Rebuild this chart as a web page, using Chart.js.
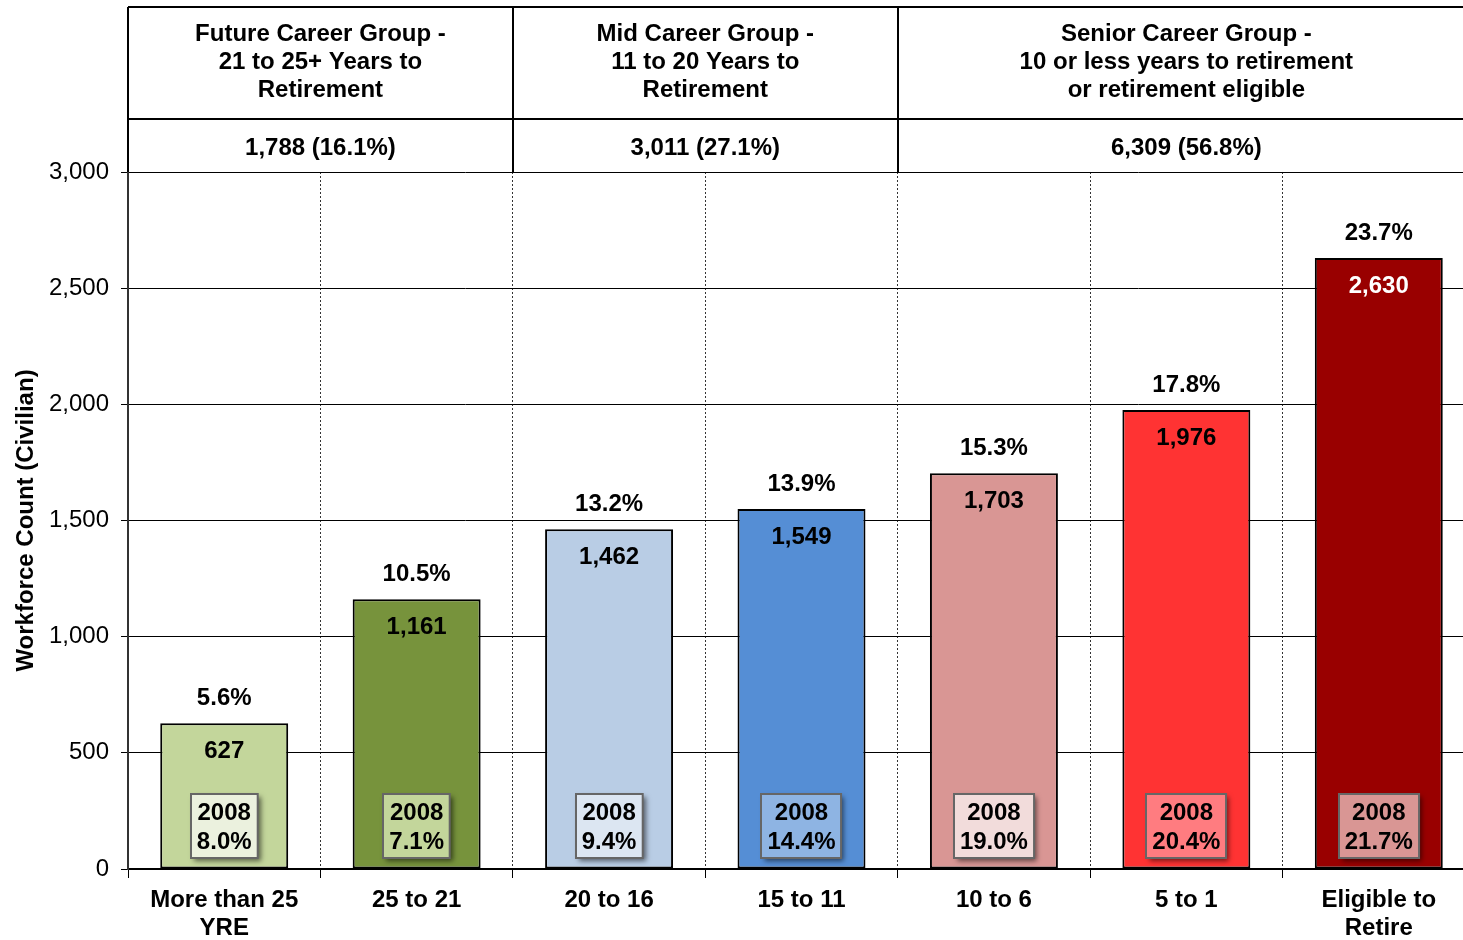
<!DOCTYPE html>
<html>
<head>
<meta charset="utf-8">
<title>Workforce Count (Civilian)</title>
<script src="https://cdn.jsdelivr.net/npm/chart.js@4/dist/chart.umd.min.js"></script>
<style>
    html, body { margin: 0; padding: 0; background: #fff; overflow: hidden; }
    #wrap { width: 1475px; height: 940px; }
</style>
</head>
<body>
<div id="wrap"><canvas id="workforceChart"></canvas></div>
<script>
// --- data ---
const categories = [['More than 25', 'YRE'], '25 to 21', '20 to 16', '15 to 11', '10 to 6', '5 to 1', ['Eligible to', 'Retire']];
const counts     = [627, 1161, 1462, 1549, 1703, 1976, 2630];
const pctNow     = [5.6, 10.5, 13.2, 13.9, 15.3, 17.8, 23.7];
const pct2008    = [8.0, 7.1, 9.4, 14.4, 19.0, 20.4, 21.7];
const yTicks     = [0, 500, 1000, 1500, 2000, 2500, 3000];

const groupTitles = [
    ['Future Career Group -', '21 to 25+ Years to', 'Retirement'],
    ['Mid Career Group -', '11 to 20 Years to', 'Retirement'],
    ['Senior Career Group -', '10 or less years to retirement', 'or retirement eligible'],
];
const groupCounts = [1788, 3011, 6309];
const groupPcts   = [16.1, 27.1, 56.8];
const groupSpans  = [2, 2, 3];

// --- styles ---
const barColors   = ['#c3d69b', '#77933c', '#b9cde5', '#558ed5', '#d99694', '#ff3333', '#990000'];
const boxColors   = ['#ebf1de', '#c3d69b', '#dce6f2', '#8eb4e3', '#f2dcdb', '#ff7c80', '#d99694'];
const valueColors = ['#000', '#000', '#000', '#000', '#000', '#000', '#fff'];
const FONT = "'Liberation Sans', Arial, sans-serif";

const fmt = n => n.toLocaleString('en-US');

// labels above / inside bars + 2008 boxes
const barLabels = {
    id: 'barLabels',
    afterDatasetsDraw(chart) {
        const ctx = chart.ctx;
        const meta = chart.getDatasetMeta(0);
        const yScale = chart.scales.y;
        ctx.save();
        ctx.textAlign = 'center';
        ctx.textBaseline = 'middle';
        meta.data.forEach((bar, i) => {
            ctx.font = `bold 24px ${FONT}`;
            ctx.fillStyle = '#000';
            ctx.fillText(pctNow[i].toFixed(1) + '%', bar.x, bar.y - 25);
            ctx.fillStyle = valueColors[i];
            ctx.fillText(fmt(counts[i]), bar.x, bar.y + 28);

            // 2008 box
            ctx.font = `bold 24px ${FONT}`;
            const l1 = '2008', l2 = pct2008[i].toFixed(1) + '%';
            const w = Math.max(ctx.measureText(l1).width, ctx.measureText(l2).width) + 12;
            const h = 64;
            const cy = yScale.getPixelForValue(0) - 43;
            const bx = Math.round(bar.x - w / 2), by = Math.round(cy - h / 2);
            ctx.save();
            ctx.shadowColor = 'rgba(0,0,0,0.55)';
            ctx.shadowBlur = 5;
            ctx.shadowOffsetX = 3;
            ctx.shadowOffsetY = 3;
            ctx.fillStyle = boxColors[i];
            ctx.fillRect(bx, by, w, h);
            ctx.restore();
            ctx.strokeStyle = '#666';
            ctx.lineWidth = 2;
            ctx.strokeRect(bx, by, w, h);
            ctx.fillStyle = '#000';
            ctx.fillText(l1, bar.x, cy - 13);
            ctx.fillText(l2, bar.x, cy + 16);
        });
        ctx.restore();
    },
};

// group table above the plot
const groupTable = {
    id: 'groupTable',
    afterDraw(chart) {
        const ctx = chart.ctx;
        const x = chart.scales.x;
        const area = chart.chartArea;
        const top = 7, mid = 119, bottom = area.top;
        const step = x.getPixelForValue(1) - x.getPixelForValue(0);
        ctx.save();
        ctx.strokeStyle = '#000';
        ctx.lineWidth = 2;
        ctx.beginPath();
        ctx.moveTo(area.left, top); ctx.lineTo(area.right, top);
        ctx.moveTo(area.left, mid); ctx.lineTo(area.right, mid);
        ctx.stroke();

        ctx.textAlign = 'center';
        ctx.textBaseline = 'middle';
        ctx.fillStyle = '#000';
        let idx = 0;
        groupSpans.forEach((span, g) => {
            const x0 = x.getPixelForValue(idx) - step / 2;
            const x1 = x.getPixelForValue(idx + span - 1) + step / 2;
            ctx.beginPath();
            ctx.moveTo(Math.round(x0), top); ctx.lineTo(Math.round(x0), bottom);
            ctx.stroke();
            const cx = (x0 + x1) / 2;
            ctx.font = `bold 24px ${FONT}`;
            groupTitles[g].forEach((line, k) => ctx.fillText(line, cx, 34 + k * 28));
            ctx.fillText(`${fmt(groupCounts[g])} (${groupPcts[g].toFixed(1)}%)`, cx, 148);
            idx += span;
        });
        ctx.restore();
    },
};

new Chart(document.getElementById('workforceChart'), {
    type: 'bar',
    data: {
        labels: categories,
        datasets: [{
            data: counts,
            backgroundColor: barColors,
            borderColor: '#000',
            borderWidth: 2,
            borderSkipped: false,
            barPercentage: 0.665,
            categoryPercentage: 1.0,
        }],
    },
    options: {
        responsive: true,
        maintainAspectRatio: false,
        animation: false,
        layout: { padding: { top: 172, right: 0, left: 0, bottom: 0 } },
        plugins: {
            legend: { display: false },
            tooltip: { enabled: false },
        },
        scales: {
            x: {
                afterFit: s => { s.height = 71; },
                grid: {
                    color: '#333',
                    lineWidth: 1,
                    tickLength: 9,
                    tickColor: '#000',
                    tickBorderDash: [],
                },
                border: { display: true, color: '#000', width: 2, dash: [2, 2] },
                ticks: {
                    color: '#000',
                    padding: 8,
                    font: { family: FONT, size: 24, weight: 'bold', lineHeight: 1.17 },
                },
            },
            y: {
                min: 0,
                max: 3000,
                afterFit: s => { s.width = 128; },
                afterBuildTicks: s => { s.ticks = yTicks.map(v => ({ value: v })); },
                grid: { color: '#000', lineWidth: 1, tickLength: 7, tickColor: '#000' },
                border: { display: true, color: '#333', width: 2 },
                ticks: {
                    color: '#000',
                    padding: 12,
                    font: { family: FONT, size: 24 },
                    callback: v => fmt(v),
                },
                title: {
                    display: true,
                    text: 'Workforce Count (Civilian)',
                    color: '#000',
                    padding: { top: 12, bottom: 4 },
                    font: { family: FONT, size: 24, weight: 'bold' },
                },
            },
        },
    },
    plugins: [barLabels, groupTable],
});
</script>
</body>
</html>
